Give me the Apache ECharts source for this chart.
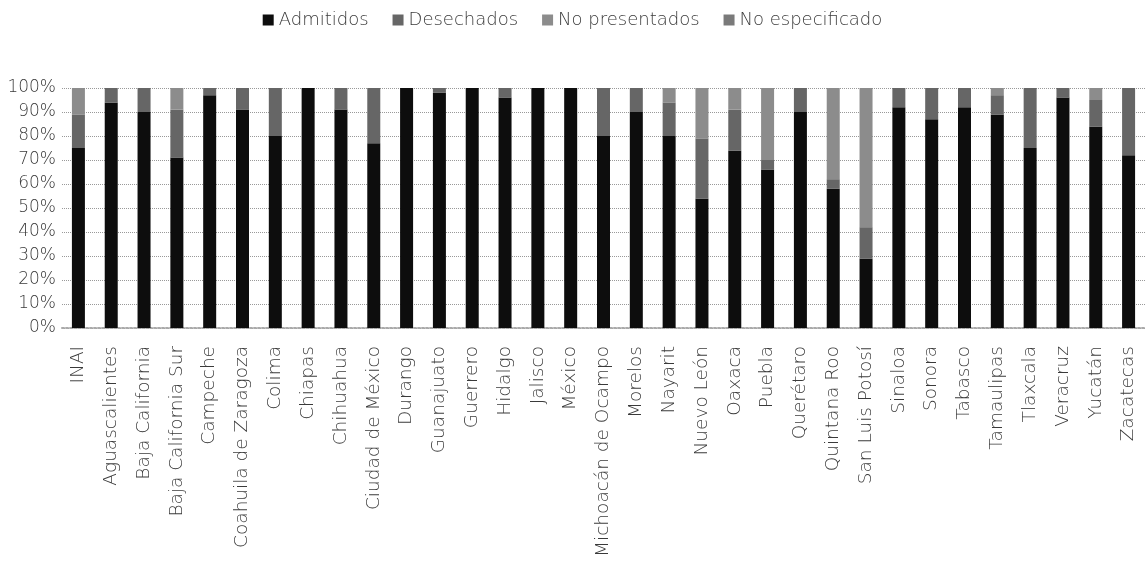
<!DOCTYPE html>
<html>
<head>
<meta charset="utf-8">
<script src="https://cdn.jsdelivr.net/npm/echarts@6/dist/echarts.min.js"></script>
<style>
  html, body { margin: 0; padding: 0; background: #fff; }
  #container { width: 1145px; height: 577px; }
</style>
</head>
<body>
<div id="container"></div>
<script>
const estados = ['INAI', 'Aguascalientes', 'Baja California', 'Baja California Sur', 'Campeche',
  'Coahuila de Zaragoza', 'Colima', 'Chiapas', 'Chihuahua', 'Ciudad de México', 'Durango',
  'Guanajuato', 'Guerrero', 'Hidalgo', 'Jalisco', 'México', 'Michoacán de Ocampo', 'Morelos',
  'Nayarit', 'Nuevo León', 'Oaxaca', 'Puebla', 'Querétaro', 'Quintana Roo', 'San Luis Potosí',
  'Sinaloa', 'Sonora', 'Tabasco', 'Tamaulipas', 'Tlaxcala', 'Veracruz', 'Yucatán', 'Zacatecas'];

const admitidos = [75, 94, 90, 71, 97, 91, 80, 100, 91, 77, 100, 98, 100, 96, 100, 100, 80, 90,
  80, 54, 74, 66, 90, 58, 29, 92, 87, 92, 89, 75, 96, 84, 72];
const desechados = [14, 6, 10, 20, 3, 9, 20, 0, 9, 23, 0, 2, 0, 4, 0, 0, 20, 10,
  14, 25, 17, 4, 10, 4, 13, 8, 13, 8, 8, 25, 4, 11, 28];
const noPresentados = [11, 0, 0, 9, 0, 0, 0, 0, 0, 0, 0, 0, 0, 0, 0, 0, 0, 0,
  6, 21, 9, 30, 0, 38, 58, 0, 0, 0, 3, 0, 0, 5, 0];
const noEspecificado = [0, 0, 0, 0, 0, 0, 0, 0, 0, 0, 0, 0, 0, 0, 0, 0, 0, 0,
  0, 0, 0, 0, 0, 0, 0, 0, 0, 0, 0, 0, 0, 0, 0];

const yTicks = [0, 10, 20, 30, 40, 50, 60, 70, 80, 90, 100];

const fuente = '"DejaVu Sans", Verdana, sans-serif';
let chart = echarts.init(document.getElementById('container'));

function serie(name, data, color) {
  return {
    name: name,
    type: 'bar',
    stack: 'total',
    barWidth: 13,
    itemStyle: { color: color },
    data: data,
  };
}

let option = {
  animation: false,
  textStyle: { fontFamily: fuente, fontWeight: 200 },
  legend: {
    top: 6,
    left: 'center',
    itemWidth: 11,
    itemHeight: 11,
    itemGap: 24,
    icon: 'rect',
    textStyle: { fontSize: 18, color: '#3a3a3a', fontFamily: fuente, fontWeight: 200 },
  },
  grid: {
    left: 62,
    top: 88,
    width: 1089,
    height: 240,
  },
  xAxis: {
    type: 'category',
    data: estados,
    axisTick: { show: false },
    axisLine: { lineStyle: { color: '#aaa', type: 'dotted', width: 2 } },
    axisLabel: {
      rotate: 90,
      interval: 0,
      margin: 18,
      fontSize: 18.5,
      color: '#3a3a3a',
      fontFamily: fuente,
      fontWeight: 200,
    },
  },
  yAxis: {
    type: 'value',
    min: yTicks[0],
    max: yTicks[yTicks.length - 1],
    interval: 10,
    axisLine: { show: false },
    axisTick: { show: false },
    axisLabel: {
      formatter: '{value}%',
      fontSize: 17,
      color: '#3a3a3a',
      margin: 6,
      fontFamily: fuente,
      fontWeight: 200,
    },
    splitLine: { lineStyle: { color: '#999', type: 'dotted', width: 1 } },
  },
  series: [
    serie('Admitidos', admitidos, '#0d0d0d'),
    serie('Desechados', desechados, '#666666'),
    serie('No presentados', noPresentados, '#8c8c8c'),
    serie('No especificado', noEspecificado, '#7a7a7a'),
  ],
};

chart.setOption(option);
</script>
</body>
</html>
